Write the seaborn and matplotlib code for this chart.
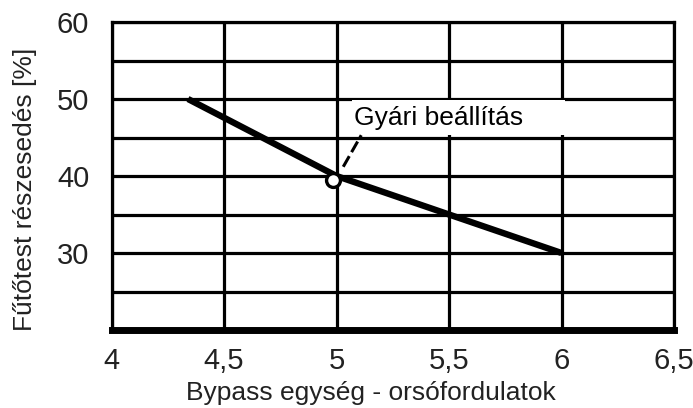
import matplotlib
matplotlib.use("Agg")
import matplotlib.pyplot as plt
from matplotlib.patches import Rectangle
import seaborn as sns
import pandas as pd

# Heater share as a function of bypass spindle turns
turns = [4.34, 5.0, 5.5, 6.0]
share = [50, 40, 35, 30]

# Factory setting
factory_turns = [4.985]
factory_share = [39.5]
factory_label = "Gyári beállítás"

x_ticks = [4.0, 4.5, 5.0, 5.5, 6.0, 6.5]
x_tick_labels = ["4", "4,5", "5", "5,5", "6", "6,5"]
y_ticks = [20, 25, 30, 35, 40, 45, 50, 55, 60]
y_tick_labels = ["", "", "30", "", "40", "", "50", "", "60"]

x_title = "Bypass egység - orsófordulatok"
y_title = "Fűtőtest részesedés [%]"

sns.set_style("white")
plt.rcParams["font.family"] = ["Liberation Sans", "DejaVu Sans"]

W, H = 693, 408
fig = plt.figure(figsize=(W / 100, H / 100), dpi=100)
ax = fig.add_axes([111.5 / W, 78 / H, 562.5 / W, 308 / H])

df = pd.DataFrame({"turns": turns, "share": share})
sns.lineplot(data=df, x="turns", y="share", color="black", linewidth=4.6,
             ax=ax, zorder=4, solid_capstyle="butt")

ax.set_xlim(4.0, 6.5)
ax.set_ylim(20, 60)
ax.set_xticks(x_ticks)
ax.set_xticklabels(x_tick_labels)
ax.set_yticks(y_ticks)
ax.set_yticklabels(y_tick_labels)
ax.set_xlabel("")
ax.set_ylabel("")

ax.grid(True, color="black", linewidth=2.3)
ax.set_axisbelow(True)
for side in ["left", "right", "top"]:
    ax.spines[side].set_color("black")
    ax.spines[side].set_linewidth(2.3)
ax.spines["bottom"].set_color("black")
ax.spines["bottom"].set_linewidth(5)

ax.tick_params(axis="y", direction="out", length=12, width=2.3, pad=4,
               labelsize=21, color="black", labelcolor="#222222")
ax.tick_params(axis="x", direction="out", length=8, width=2.3, pad=4,
               labelsize=21, color="black", labelcolor="#222222")

# Label box for the factory setting
ax.add_patch(Rectangle((5.07, 45.3), 0.945, 4.55, facecolor="white",
                       edgecolor="none", zorder=3))
ax.text(5.078, 46.6, factory_label, fontsize=19, fontweight="normal",
        va="baseline", ha="left", color="black", zorder=5)
ax.plot([5.03, 5.11], [41.2, 45.3], color="black", linewidth=2.2,
        linestyle=(0, (4, 1.5)), zorder=5)
ax.plot(factory_turns, factory_share, marker="o", markersize=10,
        markerfacecolor="white", markeredgecolor="black",
        markeredgewidth=2.4, linestyle="none", zorder=6)

fig.text(371 / W, 1 - 393 / H, x_title, fontsize=19, ha="center",
         va="center", color="#222222")
fig.text(25 / W, 1 - 189 / H, y_title, fontsize=19, ha="center",
         va="center", rotation=90, color="#222222")

fig.savefig("out.png", dpi=100)
